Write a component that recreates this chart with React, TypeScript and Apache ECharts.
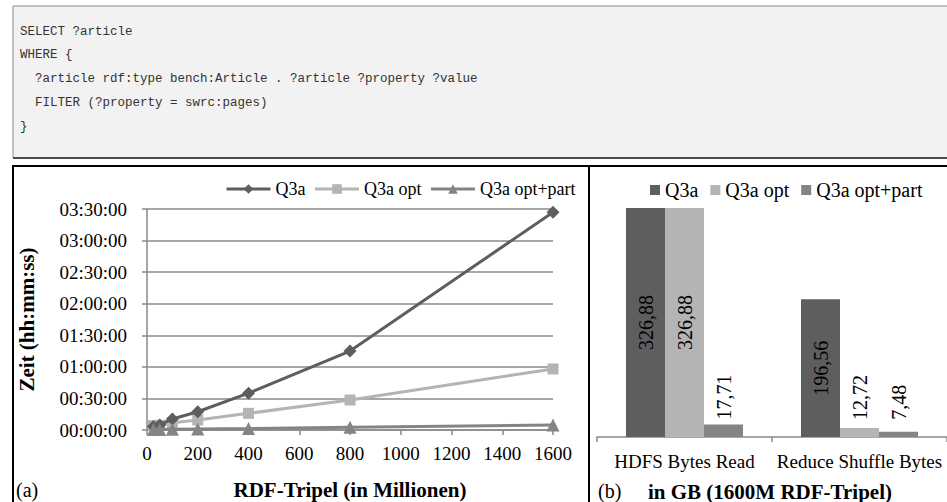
import React, { useEffect, useRef } from "react";
import * as echarts from "echarts";

// ---- data ----
const codeLines = [
  "SELECT ?article",
  "WHERE {",
  "  ?article rdf:type bench:Article . ?article ?property ?value",
  "  FILTER (?property = swrc:pages)",
  "}",
];

const lineSeriesNames = ["Q3a", "Q3a opt", "Q3a opt+part"];
const tripleCounts = [25, 50, 100, 200, 400, 800, 1600]; // millions
// durations in seconds
const q3aTimes = [200, 290, 630, 1040, 2100, 4500, 12420];
const q3aOptTimes = [250, 270, 420, 570, 950, 1710, 3480];
const q3aOptPartTimes = [30, 30, 40, 60, 80, 150, 290];

const barCategories = ["HDFS Bytes Read", "Reduce Shuffle Bytes"];
const barQ3a = [326.88, 196.56];
const barQ3aOpt = [326.88, 12.72];
const barQ3aOptPart = [17.71, 7.48];

const SERIF = "Liberation Serif";
const MONO = "Liberation Mono";
const C1 = "#5e5e5e";
const C2 = "#b4b4b4";
const C3 = "#848484";
const GRID = "#8a8a8a";

function fmtTime(v: number) {
  const h = Math.floor(v / 3600);
  const m = Math.floor((v % 3600) / 60);
  const s = Math.floor(v % 60);
  const p = (n: number) => String(n).padStart(2, "0");
  return `${p(h)}:${p(m)}:${p(s)}`;
}

function fmtComma(v: number) {
  return v.toFixed(2).replace(".", ",");
}

export default function App() {
  const refA = useRef<HTMLDivElement>(null);
  const refB = useRef<HTMLDivElement>(null);

  useEffect(() => {
    document.body.style.margin = "0";
    const a = echarts.init(refA.current!, null, { renderer: "svg" });
    const b = echarts.init(refB.current!, null, { renderer: "svg" });

    const codeTexts = codeLines.map((t, i) => ({
      type: "text",
      left: 20,
      top: 25 + i * 23.8,
      style: { text: t, fontFamily: MONO, fontSize: 12.5, fill: "#333" },
    }));

    a.setOption({
      animation: false,
      textStyle: { fontFamily: SERIF },
      graphic: [
        {
          type: "rect",
          shape: { x: 13, y: 6, width: 940, height: 152 },
          style: { fill: "#f2f2f2", stroke: "#8c8c8c", lineWidth: 1 },
        },
        {
          type: "line",
          shape: { x1: 13, y1: 158, x2: 947, y2: 158 },
          style: { stroke: "#4a4a4a", lineWidth: 2 },
        },
        ...codeTexts,
        {
          type: "line",
          shape: { x1: 12, y1: 166, x2: 947, y2: 166 },
          style: { stroke: "#000", lineWidth: 2 },
        },
        {
          type: "line",
          shape: { x1: 13, y1: 165, x2: 13, y2: 502 },
          style: { stroke: "#000", lineWidth: 2 },
        },
        {
          type: "line",
          shape: { x1: 589, y1: 165, x2: 589, y2: 502 },
          style: { stroke: "#000", lineWidth: 2 },
        },
        {
          type: "text",
          left: 16,
          top: 480,
          style: { text: "(a)", fontFamily: SERIF, fontSize: 20, fill: "#000" },
        },
        {
          type: "text",
          left: 598,
          top: 481,
          style: { text: "(b)", fontFamily: SERIF, fontSize: 20, fill: "#000" },
        },
        {
          type: "text",
          left: 648,
          top: 481,
          style: {
            text: "in GB (1600M RDF-Tripel)",
            fontFamily: SERIF,
            fontSize: 21,
            fontWeight: "bold",
            fill: "#000",
          },
        },
      ],
      legend: {
        left: 220,
        top: 175,
        itemWidth: 44,
        itemHeight: 12,
        itemGap: 8,
        data: lineSeriesNames,
        lineStyle: { width: 3 },
        textStyle: { fontFamily: SERIF, fontSize: 18, color: "#000" },
      },
      grid: { left: 147, right: 394, top: 209, bottom: 72 },
      xAxis: {
        type: "value",
        min: 0,
        max: 1600,
        interval: 200,
        name: "RDF-Tripel (in Millionen)",
        nameLocation: "middle",
        nameGap: 49,
        nameTextStyle: { fontFamily: SERIF, fontSize: 21, fontWeight: "bold", color: "#000" },
        axisLine: { show: true, lineStyle: { color: GRID, width: 1.5 } },
        axisTick: { show: true, length: 5, lineStyle: { color: GRID, width: 1.5 } },
        splitLine: { show: false },
        axisLabel: {
          fontFamily: SERIF,
          fontSize: 19,
          color: "#000",
          margin: 14,
          formatter: (v: number) => String(v),
        },
      },
      yAxis: {
        type: "value",
        min: 0,
        max: 12600,
        interval: 1800,
        name: "Zeit (hh:mm:ss)",
        nameLocation: "middle",
        nameGap: 110,
        nameTextStyle: { fontFamily: SERIF, fontSize: 21, fontWeight: "bold", color: "#000" },
        axisLine: { show: true, lineStyle: { color: GRID, width: 1.5 } },
        axisTick: { show: true, length: 5, lineStyle: { color: GRID, width: 1.5 } },
        splitLine: { show: true, lineStyle: { color: GRID, width: 1.5 } },
        axisLabel: {
          fontFamily: SERIF,
          fontSize: 19,
          color: "#000",
          margin: 20,
          formatter: (v: number) => fmtTime(v),
        },
      },
      series: [
        {
          name: lineSeriesNames[0],
          type: "line",
          data: tripleCounts.map((x, i) => [x, q3aTimes[i]]),
          symbol: "diamond",
          symbolSize: 13,
          lineStyle: { color: C1, width: 3 },
          itemStyle: { color: C1 },
          z: 4,
        },
        {
          name: lineSeriesNames[1],
          type: "line",
          data: tripleCounts.map((x, i) => [x, q3aOptTimes[i]]),
          symbol: "rect",
          symbolSize: 11,
          lineStyle: { color: C2, width: 3 },
          itemStyle: { color: C2 },
          z: 3,
        },
        {
          name: lineSeriesNames[2],
          type: "line",
          data: tripleCounts.map((x, i) => [x, q3aOptPartTimes[i]]),
          symbol: "triangle",
          symbolSize: 13,
          lineStyle: { color: C3, width: 3 },
          itemStyle: { color: C3 },
          z: 5,
        },
      ],
    });

    const smallDist = [5, 8, 12];
    const mkBar = (vals: number[], si: number) =>
      vals.map((v, ci) => {
        if (v > 100) {
          return {
            value: v,
            label: { show: true, position: "inside", rotate: 90, formatter: (p: any) => fmtComma(p.value) },
          };
        }
        return {
          value: v,
          label: {
            show: true,
            position: "top",
            rotate: 90,
            align: "left",
            verticalAlign: "middle",
            distance: ci === 0 ? smallDist[0] : smallDist[si],
            formatter: (p: any) => fmtComma(p.value),
          },
        };
      });

    const barLabelStyle = { fontFamily: SERIF, fontSize: 20, color: "#000" };

    b.setOption({
      animation: false,
      textStyle: { fontFamily: SERIF },
      legend: {
        left: 645,
        top: 175,
        icon: "rect",
        itemWidth: 10,
        itemHeight: 10,
        itemGap: 12,
        data: lineSeriesNames,
        textStyle: { fontFamily: SERIF, fontSize: 20, color: "#000" },
      },
      grid: { left: 597, width: 352, top: 208, bottom: 65 },
      xAxis: {
        type: "category",
        data: barCategories,
        axisLine: { show: true, lineStyle: { color: GRID, width: 1.5 } },
        axisTick: { show: true, length: 5, lineStyle: { color: GRID, width: 1.5 } },
        axisLabel: { fontFamily: SERIF, fontSize: 19, color: "#000", margin: 15, interval: 0 },
      },
      yAxis: {
        type: "value",
        min: 0,
        max: 326.88,
        show: false,
        splitLine: { show: false },
      },
      series: [
        {
          name: lineSeriesNames[0],
          type: "bar",
          data: mkBar(barQ3a, 0),
          barWidth: 39,
          barGap: "0%",
          itemStyle: { color: C1 },
          label: barLabelStyle,
        },
        {
          name: lineSeriesNames[1],
          type: "bar",
          data: mkBar(barQ3aOpt, 1),
          barWidth: 39,
          barGap: "0%",
          itemStyle: { color: C2 },
          label: barLabelStyle,
        },
        {
          name: lineSeriesNames[2],
          type: "bar",
          data: mkBar(barQ3aOptPart, 2),
          barWidth: 39,
          barGap: "0%",
          itemStyle: { color: C3 },
          label: barLabelStyle,
        },
      ],
    });

    return () => {
      a.dispose();
      b.dispose();
    };
  }, []);

  return (
    <div style={{ position: "relative", width: 947, height: 502, background: "#fff" }}>
      <div ref={refA} style={{ position: "absolute", left: 0, top: 0, width: 947, height: 502 }} />
      <div ref={refB} style={{ position: "absolute", left: 0, top: 0, width: 947, height: 502 }} />
    </div>
  );
}
